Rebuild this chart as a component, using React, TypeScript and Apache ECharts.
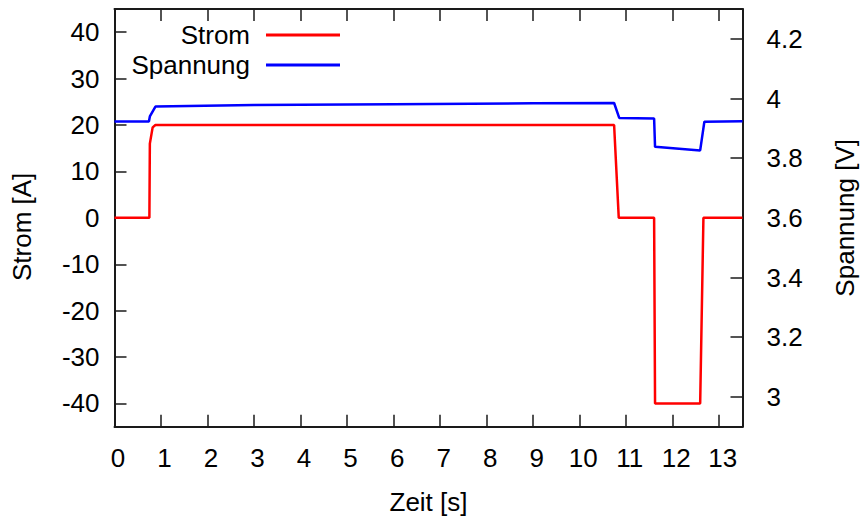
import React, { useEffect, useRef } from "react";
import * as echarts from "echarts";

const stromTime = [0, 0.75, 0.76, 0.82, 0.88, 10.74, 10.84, 11.6, 11.62, 12.59, 12.66, 13.5];
const stromValues = [0, 0, 16, 19.5, 20, 20, 0, 0, -40, -40, 0, 0];
const spannungTime = [0, 0.74, 0.76, 0.88, 3, 6, 9, 10.74, 10.85, 11.6, 11.62, 12.59, 12.68, 13.5];
const spannungValues = [3.923, 3.923, 3.94, 3.973, 3.978, 3.981, 3.984, 3.985, 3.935, 3.933, 3.838, 3.826, 3.922, 3.924];

const xTicks = [0, 1, 2, 3, 4, 5, 6, 7, 8, 9, 10, 11, 12, 13];
const stromTicks = [-40, -30, -20, -10, 0, 10, 20, 30, 40];
const spannungTicks = [3, 3.2, 3.4, 3.6, 3.8, 4, 4.2];

const FONT = "'Liberation Sans', Arial, sans-serif";
const FS = 26;
const AXIS_COLOR = "#1a1a1a";

export default function App() {
  const ref = useRef<HTMLDivElement>(null);
  useEffect(() => {
    if (!ref.current) return;
    const chart = echarts.init(ref.current, undefined, { renderer: "svg" });
    const tickStyle = { show: true, inside: true, length: 12, lineStyle: { color: AXIS_COLOR, width: 1.5 } };
    const lineStyle = { show: true, onZero: false, lineStyle: { color: AXIS_COLOR, width: 2 } };
    const labelStyle = { fontFamily: FONT, fontSize: FS, color: "#000" };
    const legendBase = {
      orient: "vertical" as const,
      align: "right" as const,
      right: 864 - 340,
      padding: 0,
      icon: "rect",
      itemWidth: 74,
      itemHeight: 3,
      textStyle: { fontFamily: FONT, fontSize: FS, color: "#000", lineHeight: 30, padding: [0, 11, 0, 0] },
    };
    chart.setOption({
      animation: false,
      backgroundColor: "#fff",
      grid: {
        left: 114.5,
        right: 121.5,
        top: 9,
        bottom: 91.3,
        containLabel: false,
        outerBoundsMode: "none",
      },
      legend: [
        { ...legendBase, top: 20, data: ["Strom"] },
        { ...legendBase, top: 50, data: ["Spannung"] },
      ],
      xAxis: [
        {
          type: "value",
          min: 0,
          max: 13.5,
          position: "bottom",
          name: "Zeit [s]",
          nameLocation: "middle",
          nameGap: 62,
          nameTextStyle: labelStyle,
          axisLine: lineStyle,
          axisTick: { ...tickStyle, customValues: xTicks },
          axisLabel: { ...labelStyle, margin: 18, padding: [0, 0, 0, 7], customValues: xTicks },
          splitLine: { show: false },
        },
        {
          type: "value",
          min: 0,
          max: 13.5,
          position: "top",
          axisLine: lineStyle,
          axisTick: { ...tickStyle, customValues: xTicks },
          axisLabel: { show: false, customValues: xTicks },
          splitLine: { show: false },
        },
      ],
      yAxis: [
        {
          type: "value",
          min: -45,
          max: 45,
          position: "left",
          name: "Strom [A]",
          nameLocation: "middle",
          nameRotate: 90,
          nameGap: 80,
          nameTextStyle: { ...labelStyle, padding: [0, 18, 0, 0] },
          axisLine: lineStyle,
          axisTick: { ...tickStyle, customValues: stromTicks },
          axisLabel: { ...labelStyle, margin: 15, customValues: stromTicks },
          splitLine: { show: false },
        },
        {
          type: "value",
          min: 2.9,
          max: 4.3,
          position: "right",
          name: "Spannung [V]",
          nameLocation: "middle",
          nameRotate: 90,
          nameGap: 89,
          nameTextStyle: labelStyle,
          axisLine: lineStyle,
          axisTick: { ...tickStyle, customValues: spannungTicks },
          axisLabel: { ...labelStyle, margin: 24, customValues: spannungTicks },
          splitLine: { show: false },
        },
      ],
      series: [
        {
          name: "Strom",
          type: "line",
          xAxisIndex: 0,
          yAxisIndex: 0,
          showSymbol: false,
          color: "#ff0000",
          lineStyle: { color: "#ff0000", width: 2.5 },
          data: stromTime.map((t, i) => [t, stromValues[i]]),
        },
        {
          name: "Spannung",
          type: "line",
          xAxisIndex: 0,
          yAxisIndex: 1,
          showSymbol: false,
          color: "#0000ff",
          lineStyle: { color: "#0000ff", width: 2.5 },
          data: spannungTime.map((t, i) => [t, spannungValues[i]]),
        },
      ],
    });
    return () => chart.dispose();
  }, []);
  return (
    <div
      ref={ref}
      style={{ position: "fixed", left: 0, top: 0, width: 864, height: 518, background: "#fff" }}
    />
  );
}
